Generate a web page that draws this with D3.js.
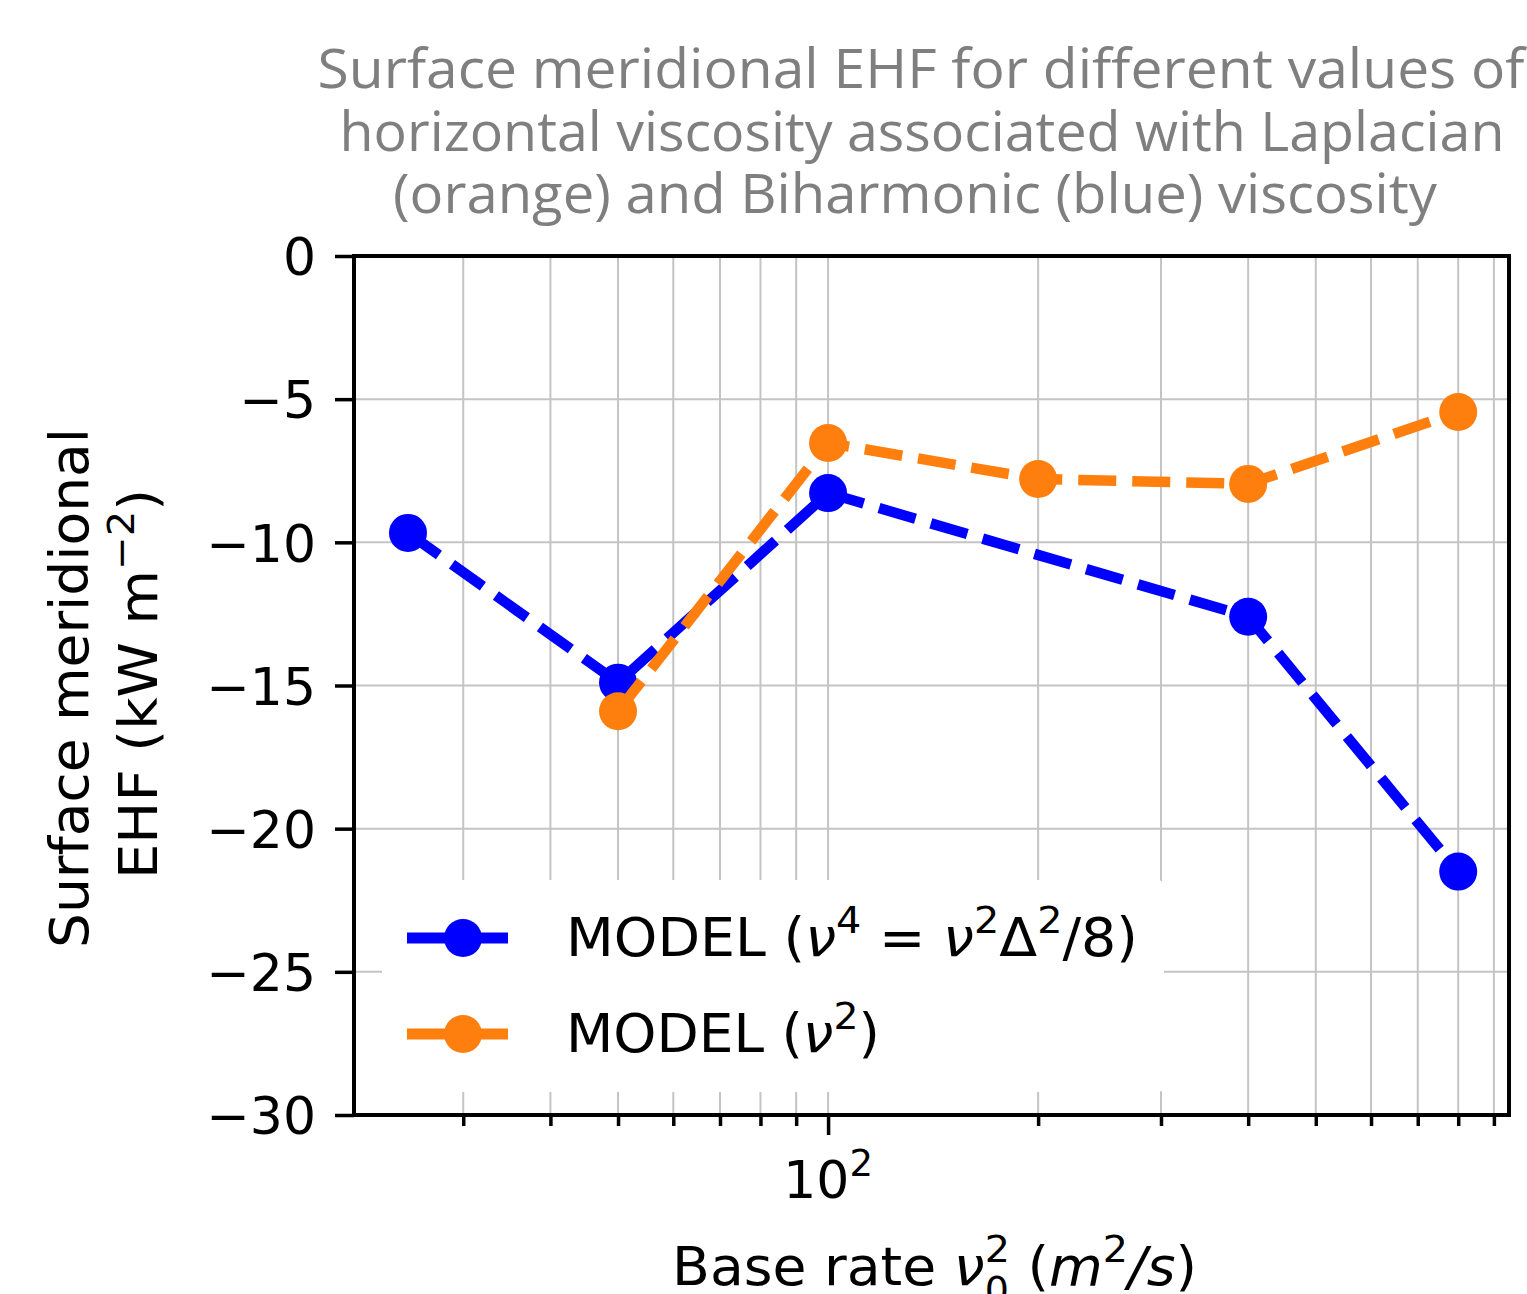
<!DOCTYPE html>
<html>
<head>
<meta charset="utf-8">
<script src="https://cdn.jsdelivr.net/npm/d3@7"></script>
<style>
  body { margin: 0; background: #fff; }
  svg { display: block; }
  .tick text { font-family: "DejaVu Sans"; font-size: 52px; fill: #000; }
</style>
</head>
<body>
<div id="chart"></div>
<script>
// base rate values (m^2/s) and surface EHF (kW m^-2)
var xBlue = [25, 50, 100, 400, 800]
var yBlue = [-9.67, -14.9, -8.28, -12.6, -21.5]
var xOrange = [50, 100, 200, 400, 800]
var yOrange = [-15.9, -6.53, -7.79, -7.96, -5.45]
var yTicks = [0, -5, -10, -15, -20, -25, -30]
var xMinor = [30, 40, 50, 60, 70, 80, 90, 200, 300, 400, 500, 600, 700, 800, 900]
var xMajor = [100]
var titleLines = ["Surface meridional EHF for different values of",
                  "horizontal viscosity associated with Laplacian",
                  "(orange) and Biharmonic (blue) viscosity"]

var W = 1527, H = 1294
var L = 354, R = 1509, T = 256, B = 1115

var svg = d3.select("#chart").append("svg").attr("width", W).attr("height", H)

var x = d3.scaleLog().domain([20.92, 946]).range([L, R])
var y = d3.scaleLinear().domain([-30, 0]).range([B, T])

// grid
var grid = svg.append("g")
grid.selectAll(".gx").data(xMajor.concat(xMinor)).enter().append("line")
    .attr("x1", d => x(d)).attr("x2", d => x(d)).attr("y1", T).attr("y2", B)
    .attr("stroke", "#c4c4c4").attr("stroke-width", 2)
grid.selectAll(".gy").data(yTicks).enter().append("line")
    .attr("y1", d => y(d)).attr("y2", d => y(d)).attr("x1", L).attr("x2", R)
    .attr("stroke", "#c4c4c4").attr("stroke-width", 2)

// axes
var yAxis = svg.append("g").attr("transform", "translate(" + L + ",0)")
    .call(d3.axisLeft(y).tickValues(yTicks).tickSize(19).tickPadding(19)
        .tickFormat(d => d === 0 ? "0" : "\u2212" + Math.abs(d)))
yAxis.select(".domain").remove()
yAxis.selectAll(".tick text").attr("dy", "0.36em")

var xAxisMaj = svg.append("g").attr("transform", "translate(0," + B + ")")
    .call(d3.axisBottom(x).tickValues(xMajor).tickSize(20).tickFormat(""))
var xAxisMin = svg.append("g").attr("transform", "translate(0," + B + ")")
    .call(d3.axisBottom(x).tickValues(xMinor).tickSize(11).tickFormat(""))
svg.selectAll(".domain").remove()
svg.selectAll(".tick line").attr("stroke", "#000").attr("stroke-width", 3.5)

// x tick label 10^2
var xl = svg.append("text").attr("x", x(100)).attr("y", 1198)
    .attr("text-anchor", "middle").attr("font-family", "DejaVu Sans").attr("font-size", 52)
xl.append("tspan").text("10")
xl.append("tspan").attr("font-size", 37).attr("dy", -22).text("2")

// lines
var line = d3.line().x(d => x(d[0])).y(d => y(d[1]))
var series = [
  {xs: xBlue, ys: yBlue, color: "#0000ff"},
  {xs: xOrange, ys: yOrange, color: "#ff7f0e"}
]
series.forEach(function(s) {
  var pts = s.xs.map((v, i) => [v, s.ys[i]])
  svg.append("path").datum(pts).attr("d", line)
     .attr("fill", "none").attr("stroke", s.color).attr("stroke-width", 10.5)
     .attr("stroke-dasharray", "38,16")
  svg.selectAll(null).data(pts).enter().append("circle")
     .attr("cx", d => x(d[0])).attr("cy", d => y(d[1])).attr("r", 19)
     .attr("fill", s.color)
})

// frame
svg.append("rect").attr("x", L).attr("y", T).attr("width", R - L).attr("height", B - T)
   .attr("fill", "none").attr("stroke", "#000").attr("stroke-width", 4)

// legend
var lg = svg.append("g")
lg.append("rect").attr("x", 382).attr("y", 880).attr("width", 782).attr("height", 212)
  .attr("rx", 6).attr("fill", "#fff")
var rows = [938, 1034]
series.forEach(function(s, i) {
  lg.append("line").attr("x1", 407).attr("x2", 508).attr("y1", rows[i]).attr("y2", rows[i])
    .attr("stroke", s.color).attr("stroke-width", 11)
  lg.append("circle").attr("cx", 463).attr("cy", rows[i]).attr("r", 19).attr("fill", s.color)
})
var t1 = lg.append("text").attr("x", 566).attr("y", 956)
    .attr("font-family", "DejaVu Sans").attr("font-size", 53)
    .attr("textLength", 572).attr("lengthAdjust", "spacingAndGlyphs")
t1.append("tspan").text("MODEL (")
t1.append("tspan").attr("font-style", "italic").text("\u03bd")
t1.append("tspan").attr("font-size", 38).attr("dy", -23).text("4")
t1.append("tspan").attr("dy", 23).text(" = ")
t1.append("tspan").attr("font-style", "italic").text("\u03bd")
t1.append("tspan").attr("font-size", 38).attr("dy", -23).text("2")
t1.append("tspan").attr("dy", 23).text("\u0394")
t1.append("tspan").attr("font-size", 38).attr("dy", -23).text("2")
t1.append("tspan").attr("dy", 23).text("/8)")
var t2 = lg.append("text").attr("x", 566).attr("y", 1052)
    .attr("font-family", "DejaVu Sans").attr("font-size", 53)
    .attr("textLength", 314).attr("lengthAdjust", "spacingAndGlyphs")
t2.append("tspan").text("MODEL (")
t2.append("tspan").attr("font-style", "italic").text("\u03bd")
t2.append("tspan").attr("font-size", 38).attr("dy", -23).text("2")
t2.append("tspan").attr("dy", 23).text(")")

// x label
var xt = svg.append("text").attr("x", 672).attr("y", 1285)
    .attr("font-family", "DejaVu Sans").attr("font-size", 53)
    .attr("textLength", 525).attr("lengthAdjust", "spacingAndGlyphs")
xt.append("tspan").text("Base rate ")
xt.append("tspan").attr("font-style", "italic").text("\u03bd")
xt.append("tspan").attr("font-size", 38).attr("dy", -23).text("2")
xt.append("tspan").attr("dy", 23).text("  (")
xt.append("tspan").attr("font-style", "italic").text("m")
xt.append("tspan").attr("font-size", 38).attr("dy", -23).text("2")
xt.append("tspan").attr("dy", 23).attr("font-style", "italic").text("/s")
xt.append("tspan").text(")")
// subscript 0 under the superscript of nu ("Base rate \u03bd" is 11 chars)
var p = xt.node().getStartPositionOfChar(11)
svg.append("text").attr("x", p.x).attr("y", 1285 + 18)
   .attr("font-family", "DejaVu Sans").attr("font-size", 38).text("0")

// y label
var yl = svg.append("g")
yl.append("text").attr("transform", "translate(88,688) rotate(-90)")
  .attr("text-anchor", "middle").attr("font-family", "DejaVu Sans").attr("font-size", 53)
  .attr("textLength", 520).attr("lengthAdjust", "spacingAndGlyphs")
  .text("Surface meridional")
var yl2 = yl.append("text").attr("transform", "translate(157,684) rotate(-90)")
  .attr("text-anchor", "middle").attr("font-family", "DejaVu Sans").attr("font-size", 53)
  .attr("textLength", 390).attr("lengthAdjust", "spacingAndGlyphs")
yl2.append("tspan").text("EHF (kW m")
yl2.append("tspan").attr("font-size", 38).attr("dy", -23).text("\u22122")
yl2.append("tspan").attr("dy", 23).text(")")

// title (overlaid text, grey)
var titleY = [88, 151, 213]
var titleW = [1207, 1165, 1044]
var titleCx = [921, 922, 915]
svg.selectAll(".title").data(titleLines).enter().append("text")
   .attr("x", (d, i) => titleCx[i]).attr("y", (d, i) => titleY[i])
   .attr("text-anchor", "middle").attr("font-family", "Open Sans").attr("font-size", 54)
   .attr("fill", "#7f7f7f")
   .attr("textLength", (d, i) => titleW[i]).attr("lengthAdjust", "spacingAndGlyphs")
   .text(d => d)
</script>
</body>
</html>
